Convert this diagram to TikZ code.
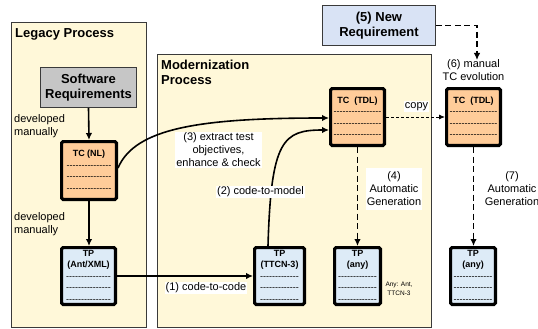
\documentclass[tikz,border=0pt]{standalone}
\usepackage{fontspec}
\setmainfont{Liberation Sans}
\usetikzlibrary{arrows.meta,calc}
\definecolor{cream}{HTML}{FFF8D9}
\definecolor{peach}{HTML}{FFCC99}
\definecolor{lblue}{HTML}{DDEBF7}
\definecolor{sgray}{HTML}{C6C6C6}
\definecolor{nblue}{HTML}{D9E3F5}
\definecolor{edge}{HTML}{3A3A3A}
\newcommand\hy{-\kern0pt}
\newcommand\hq{\hy\hy\hy\hy}
\newcommand\hlA{\hq\hq\hq\hy\hy\hy}
\newcommand\hlB{\hq\hq\hq\hy}
\newcommand\hlC{\hq\hq\hq\hq}
\begin{document}
\begin{tikzpicture}[x=1pt,y=-1pt,
 procbox/.style={draw=edge,line width=0.8pt,fill=cream},
 reqbox/.style={draw=edge,line width=0.8pt,align=center,font=\fontsize{13}{15}\selectfont\bfseries,inner sep=0pt},
 doc/.style={draw=black,line width=3.2pt,rounded corners=1.5pt,align=center,inner sep=0pt,font=\fontsize{9}{11.5}\selectfont,minimum height=56.8pt},
 tcdoc/.style={doc,fill=peach},
 tpdoc/.style={doc,fill=lblue},
 lbl/.style={align=center,font=\fontsize{11}{13}\selectfont,inner sep=1pt},
 wlbl/.style={lbl,fill=white},
 ttl/.style={font=\fontsize{13}{15}\selectfont\bfseries,inner sep=0pt,align=left},
 arr/.style={line width=1.6pt,-{Latex[length=7pt,width=6.5pt]}},
 darr/.style={line width=1.6pt,dash pattern=on 6pt off 3.5pt,-{Latex[length=7pt,width=6.5pt]}},
 carr/.style={line width=0.9pt,dash pattern=on 3pt off 2pt,-{Latex[length=6pt,width=5pt]}},
]
\useasboundingbox (0,0) rectangle (538,329);
% process areas
\draw[procbox] (11,22) rectangle (146,327);
\draw[procbox] (157,54) rectangle (431,327);
\node[ttl,anchor=base west] (legt) at (15,37.5) {Legacy Process};
\node[ttl,anchor=west] (modt) at (161,72.5) {Modernization\\Process};

% requirement boxes
\node[reqbox,fill=sgray,minimum width=96pt,minimum height=40pt] (swreq) at (88.5,87.5) {Software\\Requirements};
\node[reqbox,fill=nblue,minimum width=113pt,minimum height=40pt] (newreq) at (379,25.5) {(5) New\\Requirement};

% documents
\node[tcdoc,minimum width=54.8pt,minimum height=57.8pt] (tcnl) at (89,170.5) {\textbf{TC (NL)}\\\hlA\\\hlA\\\hlA};
\node[tpdoc,minimum width=53.8pt] (tpant) at (88.5,276) {\textbf{TP}\\\textbf{(Ant/XML)}\\\hlA\\\hlA\\\hlA};
\node[tpdoc,minimum width=49.8pt] (tpttcn) at (279.5,276) {\textbf{TP}\\\textbf{(TTCN-3)}\\\hlB\\\hlB\\\hlB};
\node[tpdoc,minimum width=45.8pt] (tpany1) at (357.5,276) {\textbf{TP}\\\textbf{(any)}\\\hlB\\\hlB\\\hlB};
\node[tpdoc,minimum width=44.8pt] (tpany2) at (473,276) {\textbf{TP}\\\textbf{(any)}\\\hlB\\\hlB\\\hlB};
\node[tcdoc,minimum width=53.8pt] (tctdl1) at (357.5,117) {\textbf{TC~ (TDL)}\\\hlC\\\hlC\\\hlC};
\node[tcdoc,minimum width=53.8pt] (tctdl2) at (473.5,117) {\textbf{TC~ (TDL)}\\\hlC\\\hlC\\\hlC};

% connectors
\draw[arr] (swreq.south) -- (tcnl.north);
\draw[arr] (tcnl.south) -- (tcnl.south |- tpant.north);
\draw[arr] (tpant.east) -- (tpttcn.west);
\draw[arr] ($(tcnl.east)+(0,-2.5)$) .. controls (135,128) and (200,118) .. ($(tctdl1.west)+(0,1)$);
\draw[arr] ($(tpttcn.north)+(-11.5,0)$) .. controls (271,140) and (283,130) .. ($(tctdl1.west)+(0,13)$);
\draw[carr] (tctdl1.east) -- (tctdl2.west);
\draw[darr] (tctdl1.south) -- (tpany1.north);
\draw[darr] (tctdl2.south) -- (tctdl2.south |- tpany2.north);
\coordinate (evotop) at (477,60);
\draw[darr] (newreq.east) -| (evotop);

% labels
\node[lbl,align=left,anchor=west] (dev1) at (13,126.5) {developed\\manually};
\node[lbl,align=left,anchor=west] (dev2) at (13,224.5) {developed\\manually};
\node[wlbl] (l3) at (218.5,150) {(3) extract test\\objectives,\\enhance \& check};
\node[wlbl] (l2) at (260.5,192) {(2) code-to-model};
\node[wlbl] (l1) at (206,288) {(1) code-to-code};
\node[wlbl,inner ysep=4pt] (l4) at (394,189) {(4)\\Automatic\\Generation};
\node[lbl] (l7) at (512,189) {(7)\\Automatic\\Generation};
\node[wlbl] (lcopy) at (416.5,106.5) {copy};
\node[lbl] (l6) at (473.5,70) {(6) manual\\TC evolution};
\node[align=center,font=\fontsize{6.5}{8.5}\selectfont,inner sep=0pt] (anyn) at (399,289) {Any: Ant,\\TTCN-3};
\end{tikzpicture}
\end{document}
